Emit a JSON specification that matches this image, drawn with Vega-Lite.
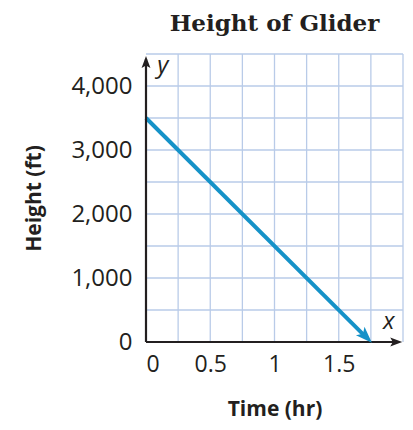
{
  "$schema": "https://vega.github.io/schema/vega-lite/v6.json",
  "width": 257,
  "height": 288,
  "autosize": "none",
  "padding": {"left": 146, "top": 54, "right": 10, "bottom": 88},
  "background": "white",
  "title": {
    "text": "Height of Glider",
    "font": "DejaVu Serif",
    "fontWeight": "bold",
    "fontSize": 23,
    "color": "#231f20",
    "anchor": "middle",
    "offset": 17
  },
  "config": {
    "view": {"stroke": null},
    "axis": {
      "labelFont": "Open Sans",
      "titleFont": "Open Sans",
      "labelColor": "#231f20",
      "titleColor": "#231f20",
      "grid": false,
      "ticks": false,
      "domain": false
    }
  },
  "layer": [
    {
      "data": {"values": [{"g": 0.25}, {"g": 0.5}, {"g": 0.75}, {"g": 1}, {"g": 1.25}, {"g": 1.5}, {"g": 1.75}, {"g": 2}]},
      "mark": {"type": "rule", "color": "#b9cbe8", "strokeWidth": 1.3},
      "encoding": {"x": {"field": "g", "type": "quantitative"}}
    },
    {
      "data": {"values": [{"g": 500}, {"g": 1000}, {"g": 1500}, {"g": 2000}, {"g": 2500}, {"g": 3000}, {"g": 3500}, {"g": 4000}, {"g": 4500}]},
      "mark": {"type": "rule", "color": "#b9cbe8", "strokeWidth": 1.3},
      "encoding": {"y": {"field": "g", "type": "quantitative"}}
    },
    {
      "data": {"values": [{"t": 0, "h": 3500}, {"t": 1.7, "h": 100}]},
      "mark": {"type": "line", "color": "#1592c8", "strokeWidth": 4, "clip": false},
      "encoding": {
        "x": {
          "field": "t", "type": "quantitative",
          "scale": {"domain": [0, 2], "nice": false},
          "axis": {
            "title": "Time (hr)",
            "titleFontSize": 21, "titleFontWeight": "bold", "titlePadding": 22,
            "labelFontSize": 23, "labelPadding": 11,
            "values": [0, 0.5, 1, 1.5],
            "format": ".1~f"
          }
        },
        "y": {
          "field": "h", "type": "quantitative",
          "scale": {"domain": [0, 4500], "nice": false},
          "axis": {
            "title": "Height (ft)",
            "titleFontSize": 21, "titleFontWeight": "bold", "titlePadding": 26,
            "labelFontSize": 24, "labelPadding": 14,
            "values": [0, 1000, 2000, 3000, 4000],
            "format": ",.0f"
          }
        }
      }
    },
    {
      "data": {"values": [{"x1": 0, "y1": 0, "x2": 0, "y2": 4420}, {"x1": 0, "y1": 0, "x2": 1.96, "y2": 0}]},
      "mark": {"type": "rule", "color": "#231f20", "strokeWidth": 2.2, "clip": false},
      "encoding": {
        "x": {"field": "x1", "type": "quantitative"},
        "y": {"field": "y1", "type": "quantitative"},
        "x2": {"field": "x2"},
        "y2": {"field": "y2"}
      }
    },
    {
      "data": {"values": [{"x": 0, "y": 4370, "a": 0}, {"x": 1.945, "y": 0, "a": 90}]},
      "mark": {"type": "point", "shape": "M0,-1 L0.7,0.9 L0,0.5 L-0.7,0.9 Z", "filled": true, "color": "#231f20", "size": 160, "opacity": 1, "clip": false},
      "encoding": {
        "x": {"field": "x", "type": "quantitative"},
        "y": {"field": "y", "type": "quantitative"},
        "angle": {"field": "a", "type": "quantitative", "scale": null}
      }
    },
    {
      "data": {"values": [{"x": 1.71, "y": 85, "a": 135}]},
      "mark": {"type": "point", "shape": "M0,-1 L0.7,0.9 L0,0.45 L-0.7,0.9 Z", "filled": true, "color": "#1592c8", "size": 300, "opacity": 1, "clip": false},
      "encoding": {
        "x": {"field": "x", "type": "quantitative"},
        "y": {"field": "y", "type": "quantitative"},
        "angle": {"field": "a", "type": "quantitative", "scale": null}
      }
    },
    {
      "data": {"values": [{"x": 0.13, "y": 4320, "label": "y"}, {"x": 1.89, "y": 310, "label": "x"}]},
      "mark": {"type": "text", "font": "Open Sans", "fontStyle": "italic", "fontSize": 24, "color": "#231f20", "align": "center", "baseline": "middle"},
      "encoding": {
        "x": {"field": "x", "type": "quantitative"},
        "y": {"field": "y", "type": "quantitative"},
        "text": {"field": "label"}
      }
    }
  ]
}
